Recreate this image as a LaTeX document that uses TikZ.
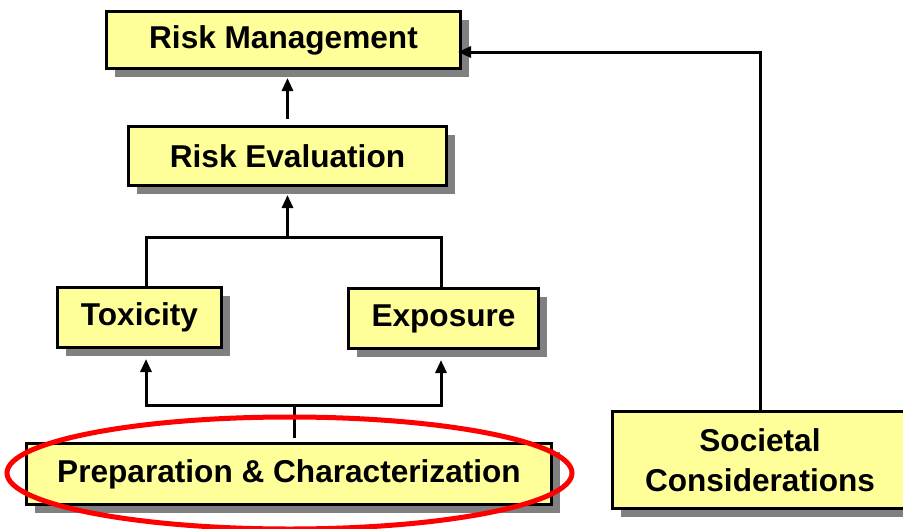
\documentclass[tikz,border=0pt]{standalone}
\usepackage{fontspec}
\setmainfont{Liberation Sans}
\usetikzlibrary{arrows.meta,shadows}
\definecolor{boxyellow}{RGB}{255,255,153}
\definecolor{shadowgray}{RGB}{128,128,128}
\tikzset{
	riskbox/.style={draw=black, line width=3pt, fill=boxyellow, inner sep=0pt, align=center,
		font=\fontsize{31.6}{40}\selectfont\bfseries,
		general shadow={fill=shadowgray, shadow xshift=8pt, shadow yshift=-8pt}},
	link/.style={line width=3pt},
	uparrow/.style={link, -{Triangle[length=13pt,width=11pt]}}
}
\begin{document}
\begin{tikzpicture}[x=1pt,y=-1pt]
		\useasboundingbox (0,0) rectangle (903,528);
		%
		\node[riskbox, minimum width=354pt, minimum height=57pt] (riskman) at (283.5,40) {Risk Management};
		\node[riskbox, minimum width=318pt, minimum height=59pt] (riskeval) at (287.5,156) {Risk Evaluation};
		\node[riskbox, minimum width=164pt, minimum height=60pt] (toxicity) at (139.5,317.5) {Toxicity};
		\node[riskbox, minimum width=190pt, minimum height=60pt] (exposure) at (443.5,318.5) {Exposure};
		\node[riskbox, minimum width=525pt, minimum height=61pt] (prep) at (289,474) {Preparation \& Characterization};
		\node[riskbox, minimum width=295pt, minimum height=97pt] (societal) at (760,460) {Societal\\Considerations};
		%
		\coordinate (evaljoin) at (287.5,237);
		\coordinate (prepjoin) at (294,405);
		%
		\draw[uparrow, shorten <=6pt, shorten >=8pt] (riskeval.north) -- (riskeval.north |- riskman.south);
		\draw[link] ([xshift=6.5pt]toxicity.north) |- (evaljoin) -| ([xshift=-2.5pt]exposure.north);
		\draw[uparrow, shorten >=8pt] (evaljoin) -- (riskeval.south);
		\draw[link, shorten <=4pt] ([xshift=5pt]prep.north) -- (prepjoin);
		\draw[uparrow, shorten >=10pt] (prepjoin) -| ([xshift=6.5pt]toxicity.south);
		\draw[uparrow, shorten >=10pt] (prepjoin) -| ([xshift=-2.5pt]exposure.south);
		\draw[uparrow, shorten >=-4pt] (societal.north) |- ([yshift=-12pt]riskman.east);
		%
		\draw[red, line width=5pt] (289.5,473) ellipse [x radius=282.5, y radius=56];
	\end{tikzpicture}
\end{document}
